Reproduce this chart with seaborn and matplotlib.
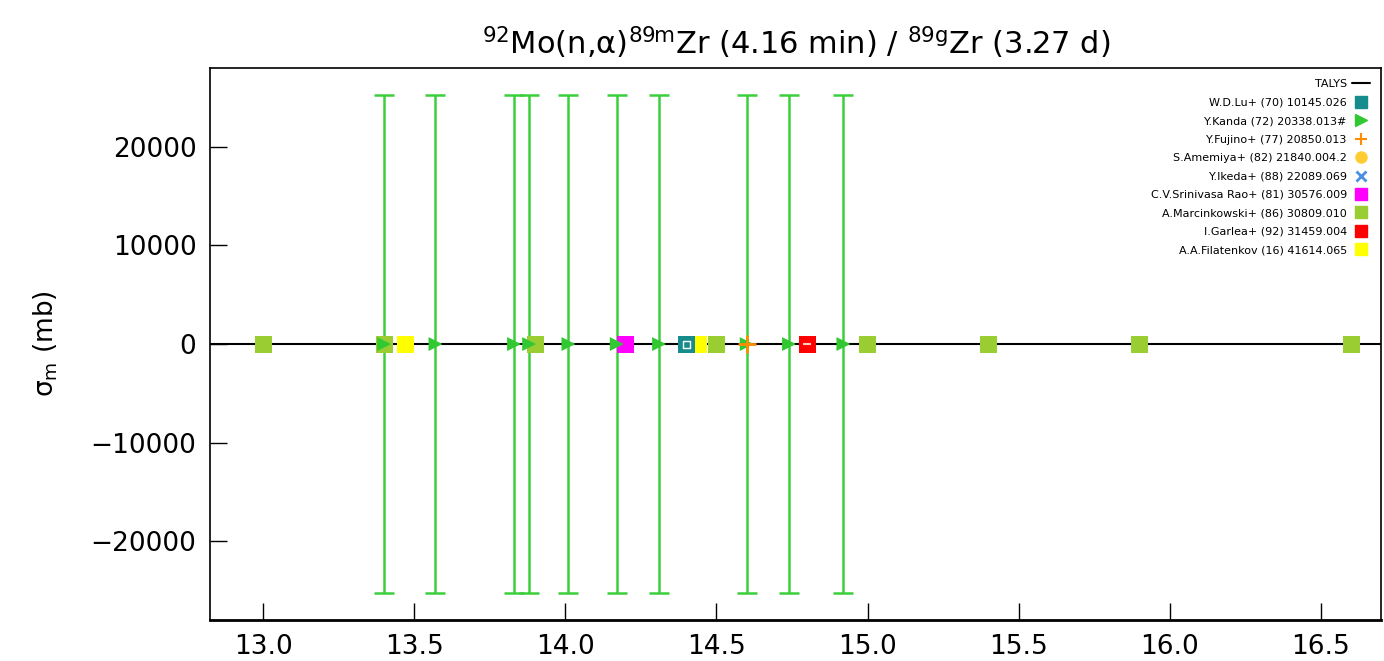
import numpy as np
import pandas as pd
import seaborn as sns
import matplotlib.pyplot as plt
from matplotlib.lines import Line2D

# data
talys_e = [12.8, 16.7]
talys_xs = [0.0, 0.0]

lu_e = [14.4]
lu_xs = [0.0]
kanda_e = [13.40, 13.57, 13.83, 13.88, 14.01, 14.17, 14.31, 14.60, 14.74, 14.92]
kanda_xs = [0.0] * 10
kanda_err = [25300.0] * 10
fujino_e = [14.6]
fujino_xs = [0.0]
rao_e = [14.2]
rao_xs = [0.0]
marc_e = [13.0, 13.4, 13.9, 14.5, 15.0, 15.4, 15.9, 16.6]
marc_xs = [0.0] * 8
garlea_e = [14.8]
garlea_xs = [0.0]
filat_e = [13.47, 14.44]
filat_xs = [0.0, 0.0]

labels = [
    "TALYS",
    "W.D.Lu+ (70) 10145.026",
    "Y.Kanda (72) 20338.013#",
    "Y.Fujino+ (77) 20850.013",
    "S.Amemiya+ (82) 21840.004.2",
    "Y.Ikeda+ (88) 22089.069",
    "C.V.Srinivasa Rao+ (81) 30576.009",
    "A.Marcinkowski+ (86) 30809.010",
    "I.Garlea+ (92) 31459.004",
    "A.A.Filatenkov (16) 41614.065",
]

sns.set_style("white")
plt.rcParams['font.family'] = ['DejaVu Sans']
plt.rcParams['text.color'] = 'black'
plt.rcParams['xtick.color'] = 'black'
plt.rcParams['ytick.color'] = 'black'
plt.rcParams['axes.labelcolor'] = 'black'
plt.rcParams['mathtext.default'] = 'regular'

fig = plt.figure(figsize=(13.84, 6.61), dpi=100)
ax = fig.add_axes([0.152, 0.062, 0.846, 0.835])

# TALYS curve
sns.lineplot(x=talys_e, y=talys_xs, color="black", lw=1.5, ax=ax, zorder=2)

# Kanda error bars
ax.errorbar(kanda_e, kanda_xs, yerr=kanda_err, fmt="none", ecolor="#3ccf3c",
            elinewidth=1.8, capsize=7, capthick=1.8, zorder=1)

sq = 150
sns.scatterplot(x=marc_e, y=marc_xs, marker="s", s=sq, color="#9acd32", edgecolor="none", ax=ax, zorder=3)
sns.scatterplot(x=kanda_e, y=kanda_xs, marker=">", s=100, color="#32c832", edgecolor="none", ax=ax, zorder=4)
sns.scatterplot(x=filat_e, y=filat_xs, marker="s", s=sq, color="#ffff00", edgecolor="none", ax=ax, zorder=3)
sns.scatterplot(x=rao_e, y=rao_xs, marker="s", s=sq, color="#ff00ff", edgecolor="none", ax=ax, zorder=3)
sns.scatterplot(x=lu_e, y=lu_xs, marker="s", s=sq, color="#168c8c", edgecolor="none", ax=ax, zorder=3)
sns.scatterplot(x=lu_e, y=lu_xs, marker="s", s=25, color="none", edgecolor="white", linewidth=1, ax=ax, zorder=3.5)
sns.scatterplot(x=fujino_e, y=fujino_xs, marker="+", s=150, color="#ff8c00", linewidth=2, ax=ax, zorder=4)
sns.scatterplot(x=garlea_e, y=garlea_xs, marker="s", s=sq, color="#ff0000", edgecolor="none", ax=ax, zorder=3)
sns.scatterplot(x=garlea_e, y=garlea_xs, marker="_", s=40, color="#ffd0c0", linewidth=1.5, ax=ax, zorder=3.5)

ax.set_xlim(12.825, 16.7)
ax.set_ylim(-28000, 28000)
ax.set_xticks([13.0, 13.5, 14.0, 14.5, 15.0, 15.5, 16.0, 16.5])
ax.set_yticks([-20000, -10000, 0, 10000, 20000])
ax.tick_params(direction="in", length=12, width=1, labelsize=19, pad=10,
               bottom=True, left=True, top=False, right=False)
for sp in ax.spines.values():
    sp.set_color("black")
    sp.set_linewidth(1.2)
ax.spines["bottom"].set_linewidth(2)

ax.set_title(r"$^{92}$Mo(n,α)$^{89m}$Zr (4.16 min) / $^{89g}$Zr (3.27 d)",
             fontsize=22, pad=10)
ax.set_ylabel(r"σ$_{m}$ (mb)", fontsize=19, labelpad=22)
ax.set_xlabel("")

handles = [
    Line2D([], [], color="black", lw=1.5),
    Line2D([], [], ls="none", marker="s", ms=8, color="#168c8c"),
    Line2D([], [], ls="none", marker=">", ms=8, color="#32c832"),
    Line2D([], [], ls="none", marker="+", ms=8, mew=1.5, color="#ff8c00"),
    Line2D([], [], ls="none", marker="o", ms=8, mfc="#ffcc33", mec="#ffcc33"),
    Line2D([], [], ls="none", marker="x", ms=7, mew=2, color="#4a90e2"),
    Line2D([], [], ls="none", marker="s", ms=9, color="#ff00ff"),
    Line2D([], [], ls="none", marker="s", ms=9, color="#9acd32"),
    Line2D([], [], ls="none", marker="s", ms=8, color="#ff0000"),
    Line2D([], [], ls="none", marker="s", ms=9, color="#ffff00"),
]
ax.legend(handles, labels, loc="upper right", frameon=False, markerfirst=False,
          fontsize=8, labelspacing=0.76, handlelength=1.6, handletextpad=0.5,
          borderaxespad=0.6, bbox_to_anchor=(1.0, 1.0))

fig.savefig("out.png", dpi=100)
